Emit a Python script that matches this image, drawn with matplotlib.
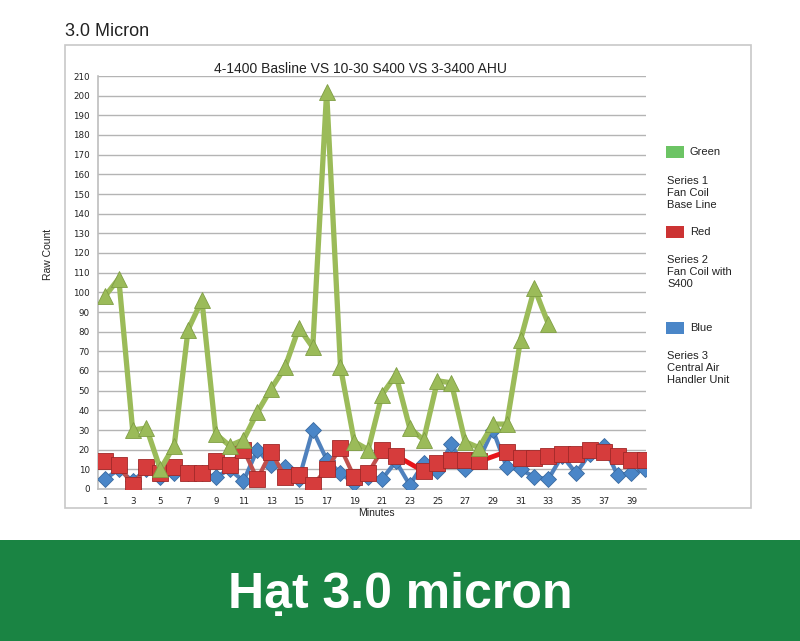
import numpy as np
import matplotlib
matplotlib.use('Agg')
import matplotlib.pyplot as plt
from matplotlib.patches import Rectangle
from matplotlib import font_manager

nan = np.nan
minutes = list(range(1, 41))
green = [98, 107, 30, 31, 10, 22, 81, 96, 28, 22, 25, 39, 51, 62, 82, 72, 202, 62, 24, 20,
         48, 58, 31, 25, 55, 54, 24, 21, 33, 33, 76, 102, 84, nan, nan, nan, nan, nan, nan, nan]
red = [14, 12, 2, 11, 8, 11, 8, 8, 14, 12, 20, 5, 19, 6, 7, 2, 10, 21, 6, 8,
       20, 17, nan, 9, 13, 15, 15, 14, nan, 19, 16, 16, 17, 18, 18, 20, 19, 17, 15, 15]
blue = [5, 10, 4, 10, 6, 8, 8, 8, 6, 10, 4, 20, 12, 11, 5, 30, 15, 8, 3, 6,
        5, 14, 2, 13, 9, 23, 10, 15, 30, 11, 10, 6, 5, 17, 8, 18, 22, 7, 8, 10]
xticks = list(range(1, 40, 2))
yticks = list(range(0, 211, 10))

legend_items = [
    ('Green', '#6cc464', 'Series 1\nFan Coil\nBase Line'),
    ('Red', '#cc3333', 'Series 2\nFan Coil with\nS400'),
    ('Blue', '#4a86c8', 'Series 3\nCentral Air\nHandler Unit'),
]

names = {f.name for f in font_manager.fontManager.ttflist}
txt_font = 'Liberation Sans' if 'Liberation Sans' in names else 'DejaVu Sans'
banner_font = 'Liberation Sans Narrow' if 'Liberation Sans Narrow' in names else txt_font

W, H = 800, 641


def px(x, y):
    return x / W, 1 - y / H


fig = plt.figure(figsize=(8, 6.41), dpi=100)
fig.patch.set_facecolor('white')

# outer chart frame
fig.patches.append(Rectangle(px(65, 508), 686 / W, 463 / H, transform=fig.transFigure,
                             facecolor='none', edgecolor='#c8c8c8', lw=1.2))

l, b = px(98, 489)
ax = fig.add_axes([l, b, 548 / W, 413 / H])

x = np.array(minutes)
ax.plot(x, blue, color='#4f81bd', lw=3, marker='D', ms=8, mfc='#4a86c8',
        mec='#3a6aa0', mew=0.6, zorder=3)
ax.plot(x, red, color='#c0504d', lw=3, marker='s', ms=11, mfc='#d63c3c',
        mec='#a02828', mew=0.6, zorder=4)
# bright red joins across the missing red readings
r = np.array(red, dtype=float)
for i in np.where(np.isnan(r))[0]:
    ax.plot([x[i - 1], x[i + 1]], [r[i - 1], r[i + 1]], color='#e8141a', lw=3.5,
            solid_capstyle='butt', zorder=3.5)
ax.plot(x, green, color='#9bbb59', lw=3.8, marker='^', ms=11, mfc='#9bbb59',
        mec='#7f9e44', mew=0.6, zorder=5)

ax.set_xlim(0.5, 40.05)
ax.set_ylim(0, 210)
ax.set_xticks(xticks)
ax.set_yticks(yticks)
ax.tick_params(axis='both', length=0, labelsize=6.3, colors='#222222', pad=6)
ax.grid(axis='y', color='#b4b4b4', lw=1)
ax.set_axisbelow(True)
for s in ['top', 'right']:
    ax.spines[s].set_visible(False)
for s in ['left', 'bottom']:
    ax.spines[s].set_color('#bdbdbd')
    ax.spines[s].set_linewidth(1.2)

fig.text(*px(48, 254), 'Raw Count', rotation=90, ha='center', va='center',
         fontsize=7.5, family=txt_font, color='#222222')
fig.text(*px(376, 513), 'Minutes', ha='center', va='center',
         fontsize=7.5, family=txt_font, color='#222222')
fig.text(*px(360, 69), '4-1400 Basline VS 10-30 S400 VS 3-3400 AHU', ha='center',
         va='center', fontsize=10, family=txt_font, color='#222222')
fig.text(*px(65, 32), '3.0 Micron', ha='left', va='center', fontsize=13,
         family=txt_font, color='#222222')

# legend drawn at the right of the frame
rows = [(152, 193), (232, 272), (328, 368)]
for (name, col, desc), (ys, yd) in zip(legend_items, rows):
    fig.patches.append(Rectangle(px(666, ys + 6), 18 / W, 12 / H, transform=fig.transFigure,
                                 facecolor=col, edgecolor='none'))
    fig.text(*px(690, ys), name, ha='left', va='center', fontsize=8,
             family=txt_font, color='#222222')
    fig.text(*px(667, yd), desc, ha='left', va='center', fontsize=8,
             family=txt_font, color='#222222', linespacing=1.25)

# green banner
fig.patches.append(Rectangle((0, 0), 1, 101 / H, transform=fig.transFigure,
                             facecolor='#1a8443', edgecolor='none'))
fig.text(*px(400, 608), 'Hạt 3.0 micron', ha='center', va='baseline', fontsize=36,
         fontweight='bold', family=banner_font, color='white')

fig.savefig('out.png', dpi=100)
